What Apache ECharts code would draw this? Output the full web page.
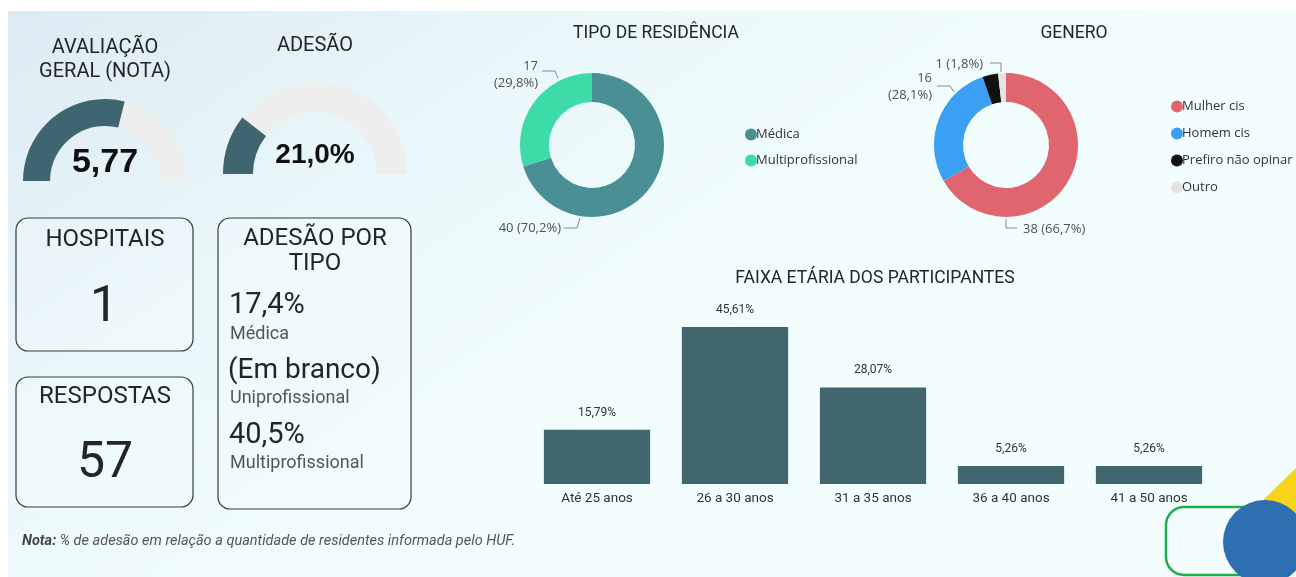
<!DOCTYPE html>
<html>
<head>
<meta charset="utf-8">
<script src="https://cdn.jsdelivr.net/npm/echarts@6/dist/echarts.min.js"></script>
<style>
  html, body { margin: 0; padding: 0; background: #fff; }
  #main { width: 1296px; height: 577px; }
</style>
</head>
<body>
<div id="main"></div>
<script>
// --- data ---
const notaGeral = 5.77;
const notaMax = 10;
const adesao = 21.0;
const hospitais = 1;
const respostas = 57;
const adesaoTipoLabels = ['Médica', 'Uniprofissional', 'Multiprofissional'];
const adesaoTipoValues = ['17,4%', '(Em branco)', '40,5%'];

const residenciaNames = ['Médica', 'Multiprofissional'];
const residenciaValues = [40, 17];
const residenciaColors = ['#4a8f93', '#3ddba7'];

const generoNames = ['Mulher cis', 'Homem cis', 'Prefiro não opinar', 'Outro'];
const generoValues = [38, 16, 2, 1];
const generoColors = ['#e0656f', '#3b9ff3', '#111111', '#e4e4e4'];

const faixaCategorias = ['Até 25 anos', '26 a 30 anos', '31 a 35 anos', '36 a 40 anos', '41 a 50 anos'];
const faixaValores = [15.79, 45.61, 28.07, 5.26, 5.26];

const DIN = 'Roboto, "DejaVu Sans", sans-serif';
const SEGOE = '"Open Sans", "Noto Sans", sans-serif';
const dark = '#41666e';

const fmtPct = (p) => p.toFixed(1).replace('.', ',');

const chart = echarts.init(document.getElementById('main'));

function txt(text, x, y, size, opts) {
  opts = opts || {};
  return {
    type: 'text',
    z: 5,
    style: {
      text: text,
      x: x,
      y: y,
      fill: opts.color || '#252525',
      font: (opts.weight || 'normal') + ' ' + size + 'px ' + (opts.family || DIN),
      align: opts.align || 'center',
      verticalAlign: 'middle'
    }
  };
}

function card(x, y, w, h) {
  return {
    type: 'rect',
    z: 4,
    shape: { x: x, y: y, width: w, height: h, r: 12 },
    style: { fill: 'rgba(255,255,255,0.15)', stroke: '#3a3a3a', lineWidth: 1.2 }
  };
}

const graphics = [
  // background
  {
    type: 'rect', z: 0,
    shape: { x: 8, y: 11, width: 1288, height: 566 },
    style: {
      fill: new echarts.graphic.LinearGradient(0, 0, 0.3, 1, [
        { offset: 0, color: '#dcebf3' },
        { offset: 0.5, color: '#eaf8fb' },
        { offset: 1, color: '#f2fdfd' }
      ])
    }
  },
  txt('AVALIAÇÃO', 105, 48, 20),
  txt('GERAL (NOTA)', 105, 72, 20),
  txt('ADESÃO', 315, 46, 20),

  card(16, 218, 177, 133),
  txt('HOSPITAIS', 105, 240, 24),
  txt(String(hospitais), 104, 308, 50),

  card(16, 377, 177, 130),
  txt('RESPOSTAS', 105, 397, 24),
  txt(String(respostas), 105, 464, 50),

  card(218, 218, 193, 291),
  txt('ADESÃO POR', 315, 239, 24),
  txt('TIPO', 315, 264, 24),
  txt(adesaoTipoValues[0], 229, 306, 29, { align: 'left' }),
  txt(adesaoTipoLabels[0], 230, 334, 18, { align: 'left', color: '#555' }),
  txt(adesaoTipoValues[1], 228, 371, 28, { align: 'left' }),
  txt(adesaoTipoLabels[1], 230, 398, 18, { align: 'left', color: '#555' }),
  txt(adesaoTipoValues[2], 229, 436, 29, { align: 'left' }),
  txt(adesaoTipoLabels[2], 230, 463, 18, { align: 'left', color: '#555' }),

  txt('TIPO DE RESIDÊNCIA', 656, 34, 17.5),
  txt('GENERO', 1074, 34, 17.5),
  txt('FAIXA ETÁRIA DOS PARTICIPANTES', 875, 279, 17.5),

  {
    type: 'text', z: 5,
    style: {
      text: '{b|Nota:} % de adesão em relação a quantidade de residentes informada pelo HUF.',
      x: 22, y: 541,
      verticalAlign: 'middle',
      font: 'italic 14.5px ' + DIN,
      fill: '#555',
      rich: { b: { fontWeight: 'bold', fontStyle: 'italic', fontSize: 14.5, fontFamily: DIN, fill: '#444' } }
    }
  },

  // corner decoration
  {
    type: 'polygon', z: 1,
    shape: { points: [[1258, 505], [1296, 468], [1296, 530]] },
    style: { fill: '#f7d417' }
  },
  {
    type: 'rect', z: 2,
    shape: { x: 1166, y: 507, width: 124, height: 68, r: 18 },
    style: { fill: '#f4fdfd', stroke: '#20ad4b', lineWidth: 2.5 }
  },
  {
    type: 'circle', z: 3,
    shape: { cx: 1265, cy: 542, r: 42 },
    style: { fill: '#2e6fb1' }
  }
];

function gauge(center, radius, width, value, max, text, size, offsetY) {
  return {
    type: 'gauge',
    center: center,
    radius: radius,
    startAngle: 180,
    endAngle: 0,
    min: 0,
    max: max,
    animation: false,
    progress: { show: true, width: width, itemStyle: { color: '#3f6670' } },
    axisLine: { lineStyle: { width: width, color: [[1, '#eeeeee']] } },
    pointer: { show: false },
    axisTick: { show: false },
    splitLine: { show: false },
    axisLabel: { show: false },
    anchor: { show: false },
    title: { show: false },
    detail: {
      offsetCenter: [0, offsetY],
      formatter: () => text,
      fontSize: size,
      fontWeight: 'bold',
      fontFamily: '"Liberation Sans", Arial, sans-serif',
      color: '#111'
    },
    data: [{ value: value }]
  };
}

const pieLabel = {
  color: '#505050', fontSize: 13, fontFamily: SEGOE, lineHeight: 17,
  formatter: (p) => p.value + (p.name === 'Multiprofissional' || p.name === 'Homem cis' ? '\n' : ' ') +
    '(' + fmtPct(p.percent) + '%)'
};

// label placement in the style of the original report (offsets from donut centre)
const residenciaLabelPos = [
  { dx: -31, dy: 83, align: 'right', line: [[-12, 73], [-15, 83], [-28, 83]] },
  { dx: -54, dy: -70, align: 'right', line: [[-34, -67], [-37, -74], [-50, -74]] }
];
const generoLabelPos = [
  { dx: 17, dy: 84, align: 'left', line: [[0, 74], [0, 83], [11, 83]] },
  { dx: -74, dy: -58, align: 'right', line: [[-52, -53], [-56, -59], [-69, -59]] },
  null,
  { dx: -23, dy: -81, align: 'right', line: [[-5, -73], [-5, -82], [-16, -82]] }
];

function layoutFor(center, pos) {
  return (p) => {
    const o = pos[p.dataIndex];
    if (!o) return {};
    return {
      x: center[0] + o.dx,
      y: center[1] + o.dy,
      align: o.align,
      verticalAlign: 'middle',
      labelLinePoints: o.line.map((q) => [center[0] + q[0], center[1] + q[1]])
    };
  };
}

const resCenter = [592, 145];
const genCenter = [1006, 145];

const option = {
  animation: false,
  graphic: graphics,
  legend: [
    {
      orient: 'vertical', left: 740, top: 123,
      icon: 'circle', itemWidth: 12, itemHeight: 12, itemGap: 13,
      textStyle: { fontSize: 13, color: '#333', fontFamily: SEGOE, padding: [0, 0, 0, -6] },
      data: residenciaNames
    },
    {
      orient: 'vertical', left: 1166, top: 95,
      icon: 'circle', itemWidth: 12, itemHeight: 12, itemGap: 14,
      textStyle: { fontSize: 13, color: '#333', fontFamily: SEGOE, padding: [0, 0, 0, -6] },
      data: generoNames
    }
  ],
  grid: { left: 528, top: 312, width: 690, height: 172 },
  xAxis: {
    type: 'category',
    data: faixaCategorias,
    axisLine: { show: false },
    axisTick: { show: false },
    axisLabel: { color: '#333', fontSize: 13.5, fontFamily: DIN, margin: 8 }
  },
  yAxis: { type: 'value', min: 0, max: 50, show: false, splitLine: { show: false } },
  series: [
    gauge([105, 181], 82, 27, notaGeral, notaMax, notaGeral.toFixed(2).replace('.', ','), 34, -18),
    gauge([315, 174], 92, 30, adesao, 100, adesao.toFixed(1).replace('.', ',') + '%', 28, -19),
    {
      type: 'pie',
      center: resCenter,
      radius: [43, 72],
      startAngle: 90,
      clockwise: true,
      label: pieLabel,
      labelLine: { lineStyle: { color: '#8a8a8a', width: 1 } },
      labelLayout: layoutFor(resCenter, residenciaLabelPos),
      data: residenciaNames.map((n, i) => ({ name: n, value: residenciaValues[i], itemStyle: { color: residenciaColors[i] } }))
    },
    {
      type: 'pie',
      center: genCenter,
      radius: [43, 72],
      startAngle: 90,
      clockwise: true,
      label: pieLabel,
      labelLine: { lineStyle: { color: '#8a8a8a', width: 1 } },
      labelLayout: layoutFor(genCenter, generoLabelPos),
      data: generoNames.map((n, i) => ({
        name: n, value: generoValues[i], itemStyle: { color: generoColors[i] },
        label: i === 2 ? { show: false } : undefined,
        labelLine: i === 2 ? { show: false } : undefined
      }))
    },
    {
      type: 'bar',
      data: faixaValores,
      barCategoryGap: '23%',
      itemStyle: { color: dark },
      label: {
        show: true, position: 'top', distance: 11,
        color: '#333', fontSize: 12, fontFamily: DIN,
        formatter: (p) => p.value.toFixed(2).replace('.', ',') + '%'
      }
    }
  ]
};

chart.setOption(option);
</script>
</body>
</html>
